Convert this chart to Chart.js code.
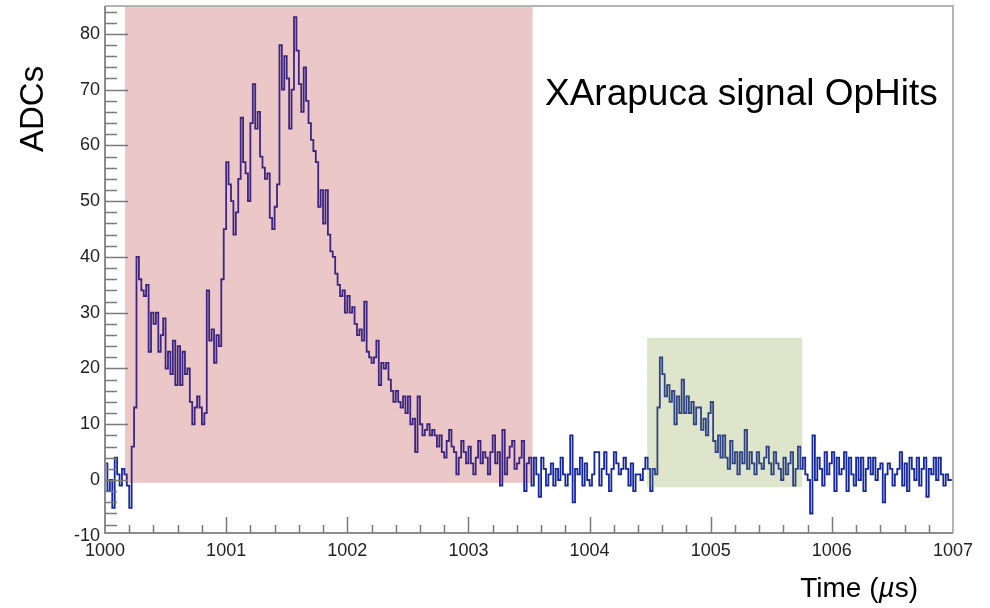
<!DOCTYPE html>
<html>
<head>
<meta charset="utf-8">
<script src="https://cdn.jsdelivr.net/npm/chart.js@4.4.0/dist/chart.umd.min.js"></script>
<style>
  html, body { margin: 0; padding: 0; background: #fff; }
</style>
</head>
<body>
<canvas id="myChart" width="990" height="608"></canvas>
<script>
// waveform: one ADC value per 0.02 us bin, one array per microsecond
var binStart = 1000;
var binWidth = 0.02;
var adc1000 = [
  3, -2, 0, -5, 4, 1, -1, 2, 1, -1,
  -5, 6, 13, 40, 36, 34, 33, 35, 23, 30,
  28, 30, 23, 26, 29, 20, 23, 19, 25, 17,
  24, 17, 23, 19, 20, 14, 10, 13, 15, 13,
  10, 12, 34, 25, 27, 21, 26, 24, 36, 45
];
var adc1001 = [
  57, 53, 50, 44, 48, 54, 65, 57, 55, 50,
  64, 71, 63, 66, 58, 56, 54, 55, 47, 45,
  49, 53, 78, 70, 76, 72, 63, 70, 83, 77,
  71, 66, 74, 68, 64, 61, 59, 57, 49, 52,
  46, 52, 44, 41, 40, 37, 35, 33, 34, 30
];
var adc1002 = [
  33, 30, 31, 28, 26, 27, 25, 32, 23, 22,
  21, 22, 25, 17, 21, 20, 21, 18, 16, 14,
  16, 14, 13, 15, 12, 15, 10, 11, 5, 15,
  10, 8, 9, 10, 8, 9, 8, 6, 8, 5,
  4, 7, 9, 6, 5, 1, 4, 7, 5, 3
];
var adc1003 = [
  6, 3, 1, 4, 7, 3, 5, 4, 1, 5,
  8, 3, 5, -1, 9, 1, 4, 6, 7, 2,
  3, 4, 7, -2, 3, 4, -1, 4, 1, -3,
  4, 2, -1, 1, 3, -1, 2, 0, 4, 1,
  -1, 1, 8, -4, 2, 1, 4, -1, 3, 0
];
var adc1004 = [
  -1, 1, 5, 5, -1, 2, 5, 1, -2, 2,
  5, 3, 1, 2, 4, 2, -1, 3, -2, 1,
  1, 0, 2, 4, 2, -2, 2, 1, 13, 22,
  19, 15, 17, 14, 16, 10, 15, 12, 18, 12,
  15, 12, 14, 10, 13, 13, 9, 11, 8, 12
];
var adc1005 = [
  14, 7, 5, 8, 4, 8, 4, 2, 7, 3,
  5, 1, 5, 3, 9, 2, 5, 3, 1, 5,
  3, 2, 4, 6, 3, 1, 5, 3, 2, 0,
  4, 1, 3, 5, -1, 2, 6, 2, 4, 1,
  0, -6, 8, 0, 4, 2, -1, 5, 1, 3
];
var adc1006 = [
  5, -2, 4, 1, 2, 5, -2, 4, 1, -1,
  4, 0, 4, -2, 2, 4, 1, 4, 0, 2,
  3, -4, 1, 3, 2, -1, 1, 2, 5, -1,
  3, -2, 4, 2, 0, 4, -1, 2, 4, -3,
  2, 1, 4, 0, 4, 1, -1, 1, 0, 0
];

// axis ticks
var xTicks = [1000, 1001, 1002, 1003, 1004, 1005, 1006, 1007];
var yTicks = [-10, 0, 10, 20, 30, 40, 50, 60, 70, 80];

// shaded windows (time range and ADC range)
var shadeStart = [1000.165, 1004.475];
var shadeEnd = [1003.53, 1005.755];
var shadeLow = [-0.5, -1.3];
var shadeHigh = [85, 25.5];

var adcValues = [].concat(adc1000, adc1001, adc1002, adc1003, adc1004, adc1005, adc1006);
var points = adcValues.map(function (v, i) {
    return { x: binStart + binWidth * (i + 0.5), y: v };
});

var fontFamily = '"Liberation Sans", Arial, Helvetica, sans-serif';

// shading, frame and inward tick marks, ROOT style
var rootStyle = {
    id: 'rootStyle',
    afterDatasetsDraw: function (chart) {
        var ctx = chart.ctx;
        var xs = chart.scales.x, ys = chart.scales.y;
        var area = chart.chartArea;
        var fills = ['rgba(175,31,35,0.25)', 'rgba(123,151,47,0.25)'];

        ctx.save();
        ctx.beginPath();
        ctx.rect(area.left, area.top, area.right - area.left, area.bottom - area.top);
        ctx.clip();
        for (var i = 0; i < shadeStart.length; i++) {
            var x0 = xs.getPixelForValue(shadeStart[i]);
            var x1 = xs.getPixelForValue(shadeEnd[i]);
            var y0 = ys.getPixelForValue(shadeHigh[i]);
            var y1 = ys.getPixelForValue(shadeLow[i]);
            ctx.fillStyle = fills[i];
            ctx.fillRect(x0, y0, x1 - x0, y1 - y0);
        }
        ctx.restore();

        ctx.save();
        // frame
        ctx.lineWidth = 2;
        ctx.strokeStyle = '#b4b4b4';
        ctx.beginPath();
        ctx.moveTo(area.left, area.top);
        ctx.lineTo(area.right, area.top);
        ctx.lineTo(area.right, area.bottom);
        ctx.stroke();
        ctx.strokeStyle = '#8c8c8c';
        ctx.beginPath();
        ctx.moveTo(area.left, area.top);
        ctx.lineTo(area.left, area.bottom);
        ctx.lineTo(area.right, area.bottom);
        ctx.stroke();

        // tick marks pointing into the plot
        ctx.lineWidth = 1.5;
        ctx.strokeStyle = '#7a7a7a';
        ctx.beginPath();
        for (var v = -8; v <= 84; v += 2) {
            var py = Math.round(ys.getPixelForValue(v)) + 0.5;
            var len = (v % 10 === 0) ? 23 : 12;
            ctx.moveTo(area.left, py);
            ctx.lineTo(area.left + len, py);
        }
        for (var k = 1; k < 35; k++) {
            var t = 1000 + k * 0.2;
            var px = Math.round(xs.getPixelForValue(t)) + 0.5;
            var l = (k % 5 === 0) ? 16 : 8;
            ctx.moveTo(px, area.bottom);
            ctx.lineTo(px, area.bottom - l);
        }
        ctx.stroke();
        ctx.restore();
    },
    afterDraw: function (chart) {
        var ctx = chart.ctx;
        ctx.save();
        ctx.fillStyle = '#000';
        ctx.textBaseline = 'alphabetic';

        // plot label
        ctx.textAlign = 'left';
        ctx.font = '37px ' + fontFamily;
        ctx.fillText('XArapuca signal OpHits', 545, 105);

        // x axis title, mu in italics
        var size = 28;
        var a = 'Time (', m = '\u00b5', b = 's)';
        ctx.font = size + 'px ' + fontFamily;
        var wa = ctx.measureText(a).width, wb = ctx.measureText(b).width;
        ctx.font = 'italic ' + size + 'px ' + fontFamily;
        var wm = ctx.measureText(m).width;
        var sx = 918 - (wa + wm + wb);
        ctx.font = size + 'px ' + fontFamily;
        ctx.fillText(a, sx, 597);
        ctx.font = 'italic ' + size + 'px ' + fontFamily;
        ctx.fillText(m, sx + wa, 597);
        ctx.font = size + 'px ' + fontFamily;
        ctx.fillText(b, sx + wa + wm, 597);

        // y axis title
        ctx.translate(43, 152);
        ctx.rotate(-Math.PI / 2);
        ctx.font = '33px ' + fontFamily;
        ctx.fillText('ADCs', 0, 0);
        ctx.restore();
    }
};

var ctx = document.getElementById('myChart').getContext('2d');
var myChart = new Chart(ctx, {
    type: 'line',
    data: {
        datasets: [{
            label: 'XArapuca signal OpHits',
            data: points,
            borderColor: 'rgb(22,40,160)',
            borderWidth: 1.8,
            pointRadius: 0,
            stepped: 'middle',
            fill: false
        }]
    },
    options: {
        responsive: false,
        animation: false,
        layout: { padding: { top: 6, right: 37, left: 0, bottom: 0 } },
        plugins: {
            legend: { display: false },
            tooltip: { enabled: false }
        },
        scales: {
            x: {
                type: 'linear',
                min: 1000,
                max: 1007,
                afterFit: function (s) {
                    s.height = 75;
                    s.paddingLeft = 0;
                    s.paddingRight = 0;
                },
                afterBuildTicks: function (s) {
                    s.ticks = xTicks.map(function (v) { return { value: v }; });
                },
                grid: { display: false, drawTicks: false },
                border: { display: false },
                ticks: {
                    padding: 7,
                    maxRotation: 0,
                    autoSkip: false,
                    color: '#222',
                    font: { family: fontFamily, size: 18 },
                    callback: function (v) { return String(v); }
                }
            },
            y: {
                min: -9.5,
                max: 85,
                afterFit: function (s) {
                    s.width = 105;
                    s.paddingTop = 0;
                    s.paddingBottom = 0;
                },
                afterBuildTicks: function (s) {
                    s.ticks = yTicks.map(function (v) { return { value: v }; });
                },
                grid: { display: false, drawTicks: false },
                border: { display: false },
                ticks: {
                    padding: 5,
                    color: '#222',
                    font: { family: fontFamily, size: 18 },
                    callback: function (v) { return String(v); }
                }
            }
        }
    },
    plugins: [rootStyle]
});
</script>
</body>
</html>
